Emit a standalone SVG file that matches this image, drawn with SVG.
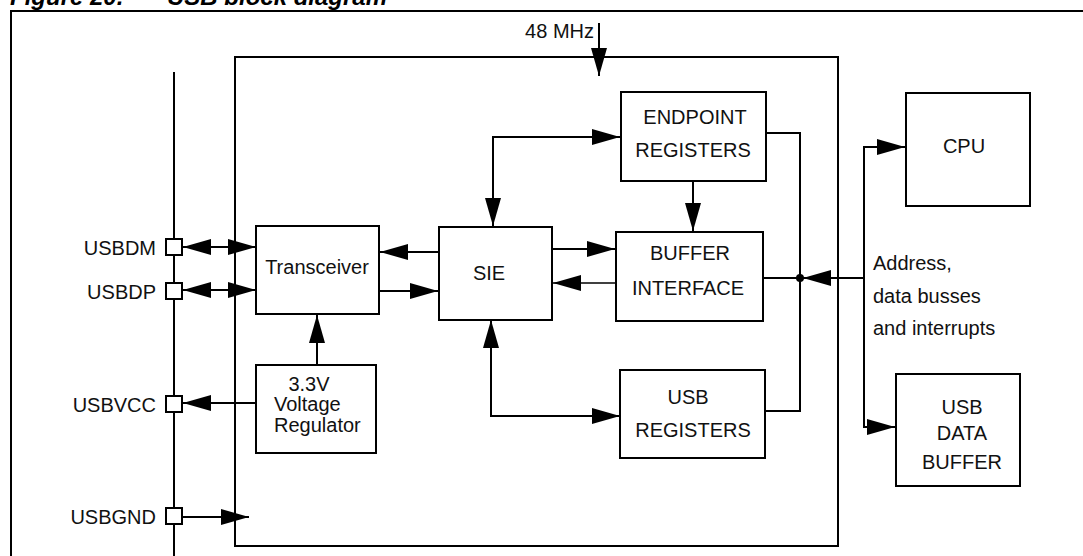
<svg xmlns="http://www.w3.org/2000/svg" width="1083" height="556" viewBox="0 0 1083 556">
<style>
.box{fill:#fff;stroke:#000;stroke-width:2}
.ln{fill:none;stroke:#000;stroke-width:2}
.t{font-family:"Liberation Sans",Arial,sans-serif;font-size:20px;fill:#111}
.c{text-anchor:middle}
.e{text-anchor:end}
.title{font-family:"Liberation Sans",Arial,sans-serif;font-size:24px;font-weight:bold;font-style:italic;fill:#000}
</style>
<defs>
<marker id="ah" markerUnits="userSpaceOnUse" markerWidth="30" markerHeight="18" refX="28" refY="8" orient="auto-start-reverse">
<path d="M0,0 L28,8 L0,16 z" fill="#000"/>
</marker>
</defs>
<rect width="1083" height="556" fill="#fff"/>
<g id="title">
<text class="title" x="10" y="5">Figure 20.</text>
<text class="title" x="167" y="5">USB block diagram</text>
</g>
<g id="frame">
<rect x="11" y="11" width="1100" height="600" fill="none" stroke="#000" stroke-width="2"/>
</g>
<g id="chip">
<rect x="235" y="57" width="603" height="489" fill="none" stroke="#000" stroke-width="2"/>
</g>
<g id="connectors">
<line class="ln" x1="174" y1="72" x2="174" y2="556"/>
<line class="ln" x1="599" y1="23" x2="599" y2="76" marker-end="url(#ah)"/>
<line class="ln" x1="183" y1="247" x2="256" y2="247" marker-start="url(#ah)" marker-end="url(#ah)"/>
<line class="ln" x1="183" y1="290" x2="256" y2="290" marker-start="url(#ah)" marker-end="url(#ah)"/>
<line class="ln" x1="256" y1="403" x2="183" y2="403" marker-end="url(#ah)"/>
<line class="ln" x1="183" y1="517" x2="249" y2="517" marker-end="url(#ah)"/>
<line class="ln" x1="317" y1="365" x2="317" y2="315" marker-end="url(#ah)"/>
<line class="ln" x1="439" y1="252" x2="380" y2="252" marker-end="url(#ah)"/>
<line class="ln" x1="379" y1="291" x2="438" y2="291" marker-end="url(#ah)"/>
<line class="ln" x1="552" y1="249" x2="615" y2="249" marker-end="url(#ah)"/>
<line x1="615" y1="283" x2="553" y2="283" stroke="#000" stroke-width="1.3" marker-end="url(#ah)"/>
<path class="ln" d="M493,226 V137 H620" marker-start="url(#ah)" marker-end="url(#ah)"/>
<path class="ln" d="M491,320 V416 H620" marker-start="url(#ah)" marker-end="url(#ah)"/>
<line class="ln" x1="693" y1="181" x2="693" y2="231" marker-end="url(#ah)"/>
<path class="ln" d="M766,133 H800 V411 H765"/>
<line class="ln" x1="763" y1="278" x2="800" y2="278"/>
<circle cx="800" cy="278" r="4" fill="#000"/>
<line class="ln" x1="864" y1="278" x2="803" y2="278" marker-end="url(#ah)"/>
<path class="ln" d="M905,147 H864 V427 H895" marker-start="url(#ah)" marker-end="url(#ah)"/>
</g>
<g id="pins">
<rect class="box" x="166" y="239" width="16" height="16"/>
<rect class="box" x="166" y="283" width="16" height="16"/>
<rect class="box" x="166" y="396" width="16" height="16"/>
<rect class="box" x="166" y="508" width="16" height="16"/>
<text class="t e" x="156" y="255">USBDM</text>
<text class="t e" x="156" y="299">USBDP</text>
<text class="t e" x="156" y="412">USBVCC</text>
<text class="t e" x="156" y="524">USBGND</text>
</g>
<g id="clock">
<text class="t e" x="594" y="38">48 MHz</text>
</g>
<g id="transceiver">
<rect class="box" x="256" y="226" width="123" height="88"/>
<text class="t c" x="317" y="274">Transceiver</text>
</g>
<g id="regulator">
<rect class="box" x="256" y="365" width="120" height="88"/>
<text class="t c" x="309" y="391">3.3V</text>
<text class="t" x="274" y="411">Voltage</text>
<text class="t" x="274" y="432">Regulator</text>
</g>
<g id="sie">
<rect class="box" x="439" y="227" width="113" height="93"/>
<text class="t c" x="489" y="280">SIE</text>
</g>
<g id="endpoint">
<rect class="box" x="621" y="92" width="145" height="89"/>
<text class="t c" x="695" y="124">ENDPOINT</text>
<text class="t c" x="693" y="157">REGISTERS</text>
</g>
<g id="buffer">
<rect class="box" x="616" y="232" width="147" height="89"/>
<text class="t c" x="690" y="260">BUFFER</text>
<text class="t c" x="688" y="295">INTERFACE</text>
</g>
<g id="usbreg">
<rect class="box" x="620" y="370" width="145" height="88"/>
<text class="t c" x="688" y="404">USB</text>
<text class="t c" x="693" y="437">REGISTERS</text>
</g>
<g id="cpu">
<rect class="box" x="906" y="93" width="124" height="113"/>
<text class="t c" x="964" y="153">CPU</text>
</g>
<g id="bus-label">
<text class="t" x="873" y="270">Address,</text>
<text class="t" x="873" y="303">data busses</text>
<text class="t" x="873" y="335">and interrupts</text>
</g>
<g id="usbdatabuffer">
<rect class="box" x="896" y="374" width="124" height="112"/>
<text class="t c" x="962" y="414">USB</text>
<text class="t c" x="962" y="440">DATA</text>
<text class="t c" x="962" y="469">BUFFER</text>
</g>
</svg>
